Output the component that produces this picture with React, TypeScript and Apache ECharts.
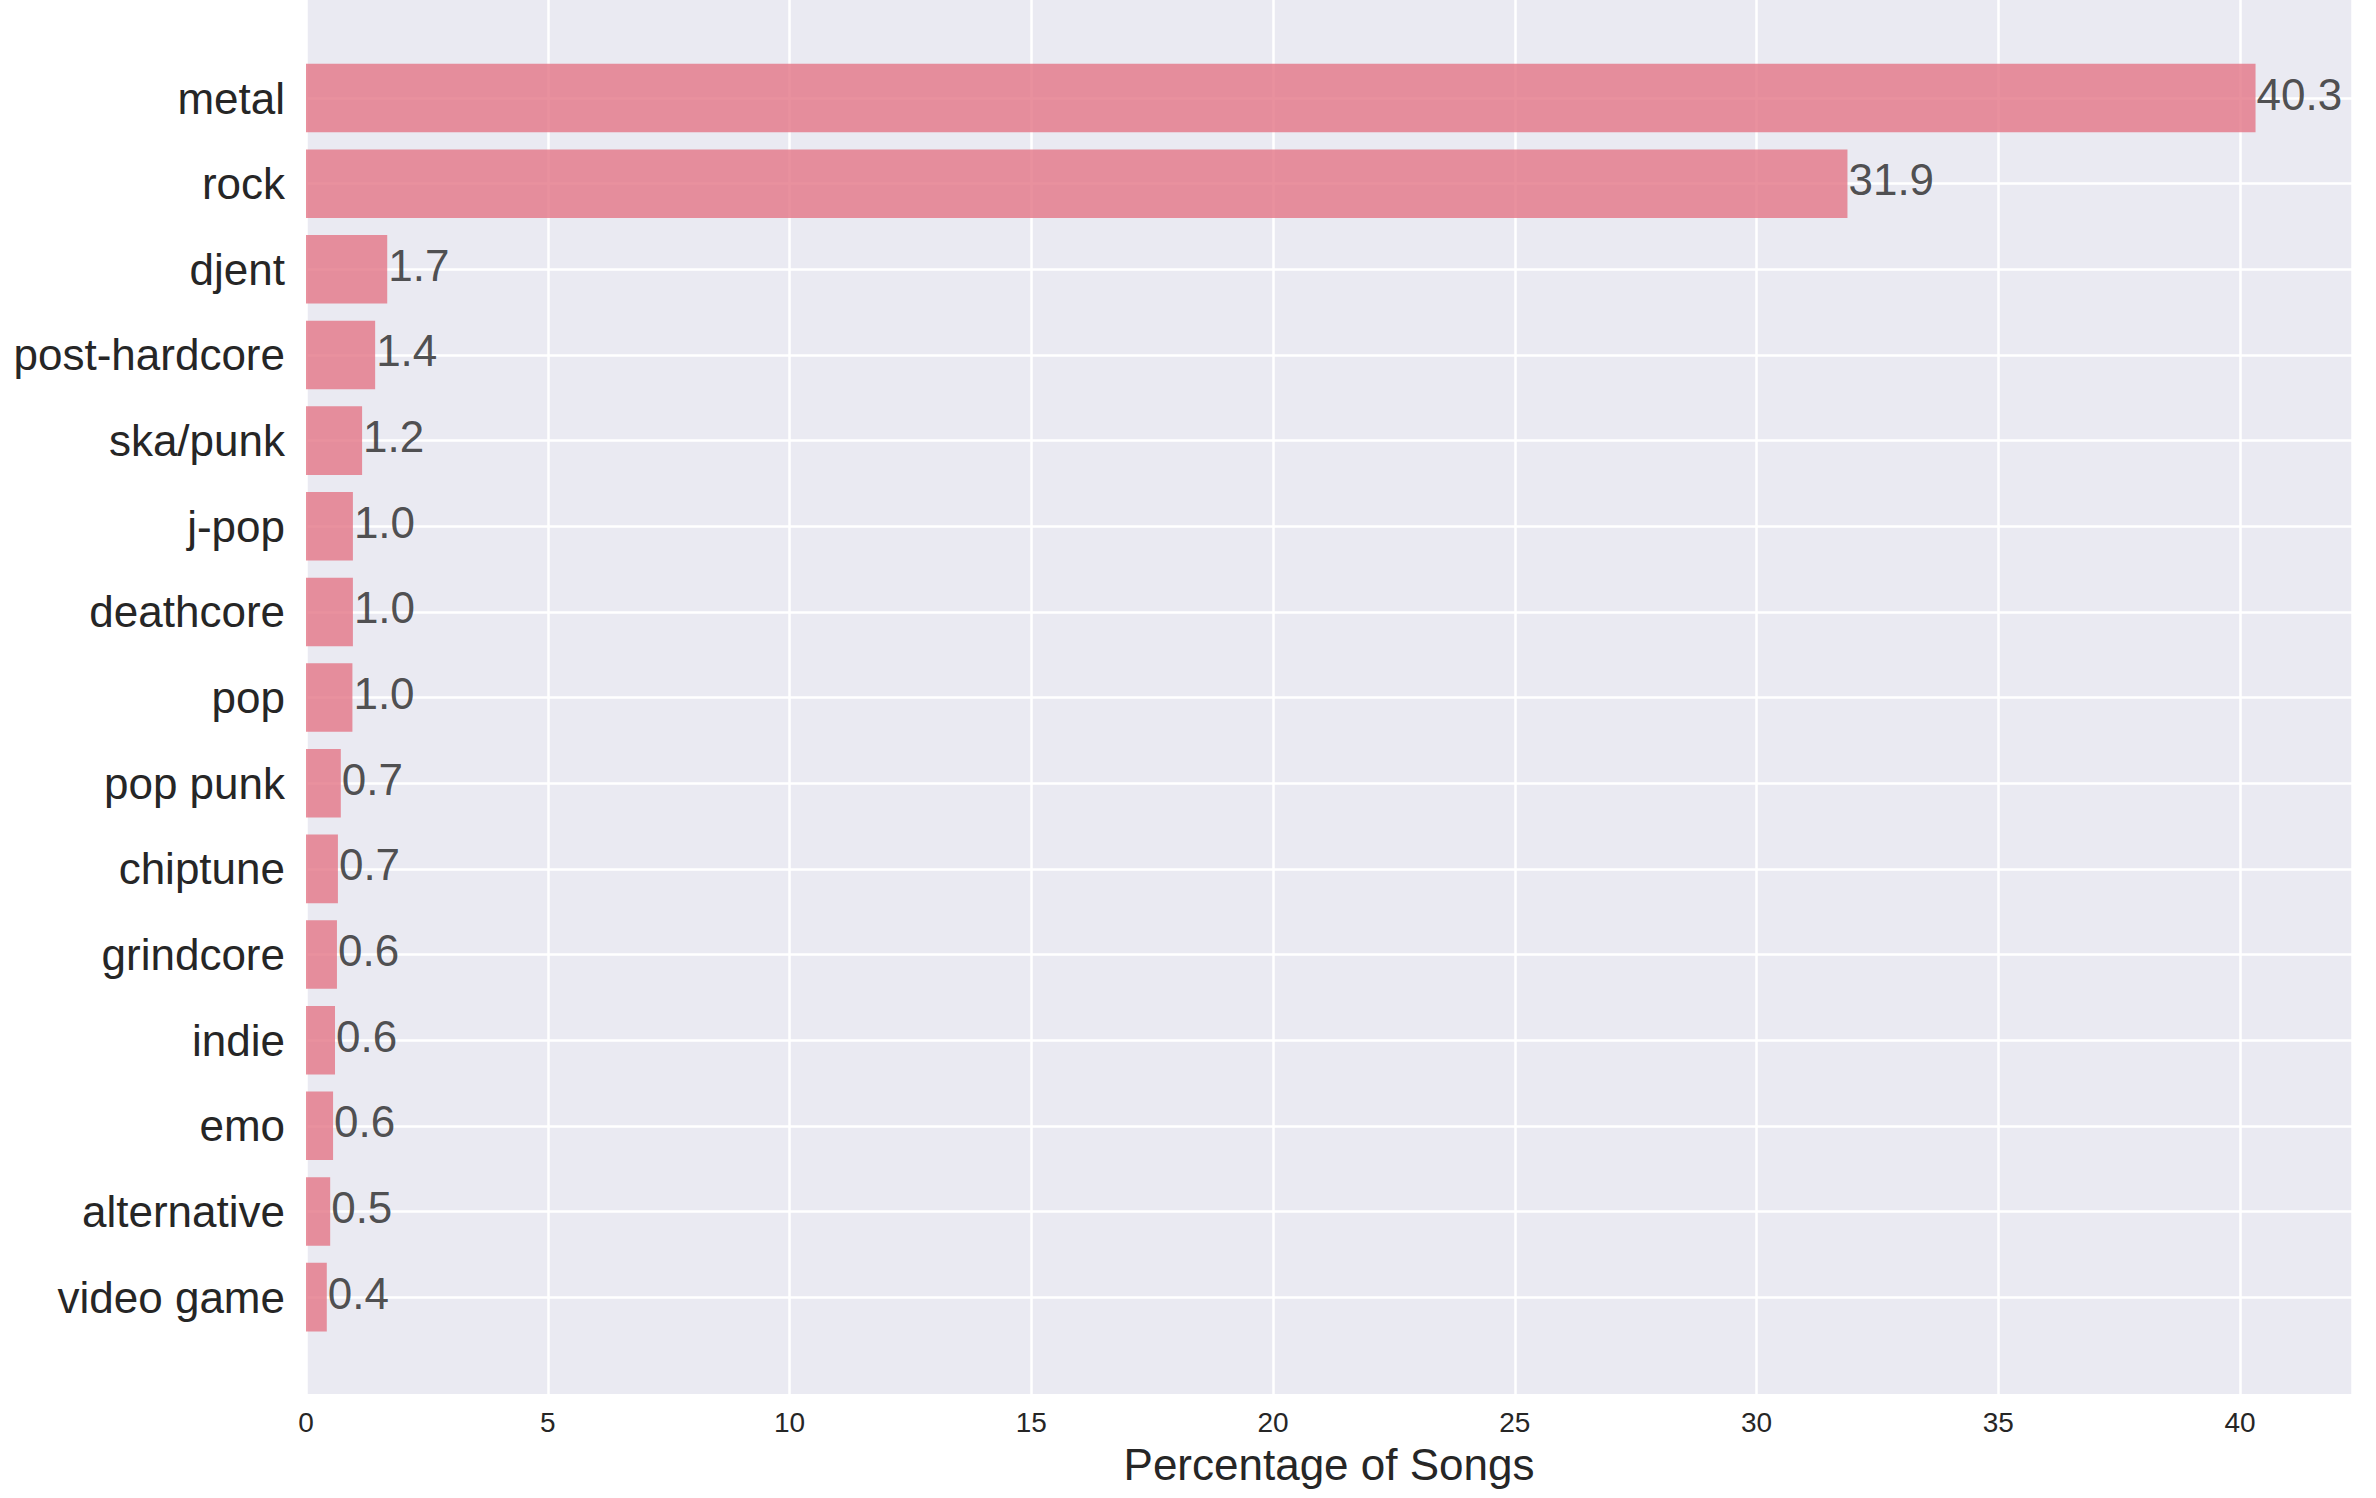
import React, { useEffect, useRef } from "react";
import * as echarts from "echarts";

const categories = [
  "metal", "rock", "djent", "post-hardcore", "ska/punk", "j-pop", "deathcore", "pop",
  "pop punk", "chiptune", "grindcore", "indie", "emo", "alternative", "video game",
];
const percentages = [
  40.32, 31.88, 1.68, 1.43, 1.16, 0.97, 0.97, 0.96, 0.72, 0.66, 0.64, 0.6, 0.56, 0.5, 0.43,
];
const xTicks = [0, 5, 10, 15, 20, 25, 30, 35, 40];
const xTitle = "Percentage of Songs";

const FONT = "'Liberation Sans', Arial, sans-serif";
const TEXT = "#262626";

export default function App() {
  const ref = useRef<HTMLDivElement>(null);
  useEffect(() => {
    document.body.style.margin = "0";
    const chart = echarts.init(ref.current!, null, { renderer: "svg" });
    const xMax = 42.315;
    chart.setOption({
      animation: false,
      backgroundColor: "#ffffff",
      textStyle: { fontFamily: FONT },
      grid: [
        {
          left: 306, right: 24, top: 0, bottom: 104,
          show: true, backgroundColor: "#EAEAF2", borderWidth: 0,
        },
        { left: 306, right: 24, top: 55.2, bottom: 158.05, show: false },
      ],
      xAxis: [
        {
          type: "value", gridIndex: 0, min: 0, max: xMax, interval: 5,
          axisLine: { show: false }, axisTick: { show: false },
          splitLine: { show: true, lineStyle: { color: "#ffffff", width: 2.5 } },
          axisLabel: {
            fontSize: 28, color: TEXT, fontFamily: FONT, margin: 14,
            showMaxLabel: false,
            formatter: (v: number) => (xTicks.includes(v) ? String(v) : ""),
          },
          name: xTitle, nameLocation: "middle", nameGap: 48,
          nameTextStyle: { fontSize: 44, color: TEXT, fontFamily: FONT },
        },
        {
          type: "value", gridIndex: 1, min: 0, max: xMax,
          show: false,
        },
      ],
      yAxis: [
        {
          type: "value", gridIndex: 0, min: 0, max: 1, show: false,
          splitLine: { show: false },
        },
        {
          type: "category", gridIndex: 1, data: categories, inverse: true,
          axisLine: { show: false }, axisTick: { show: false },
          splitLine: { show: false },
          axisLabel: { fontSize: 44, color: TEXT, fontFamily: FONT, margin: 21 },
        },
      ],
      series: [
        {
          type: "bar", xAxisIndex: 1, yAxisIndex: 1, data: percentages,
          barWidth: "80%", z: 2,
          itemStyle: { color: "rgb(228,117,134)", opacity: 0.8 },
          label: {
            show: true, position: "right", distance: 1, offset: [0, -4],
            fontSize: 44, color: TEXT, fontFamily: FONT,
            formatter: (p: any) => Number(p.value).toFixed(1),
          },
          markLine: {
            silent: true, symbol: "none", z: 1,
            label: { show: false },
            lineStyle: { color: "#ffffff", width: 2.5, type: "solid" },
            data: categories.map((c) => ({ yAxis: c })),
          },
        },
      ],
    });
    return () => chart.dispose();
  }, []);
  return (
    <div
      ref={ref}
      style={{ position: "fixed", left: 0, top: 0, width: 2376, height: 1498 }}
    />
  );
}
